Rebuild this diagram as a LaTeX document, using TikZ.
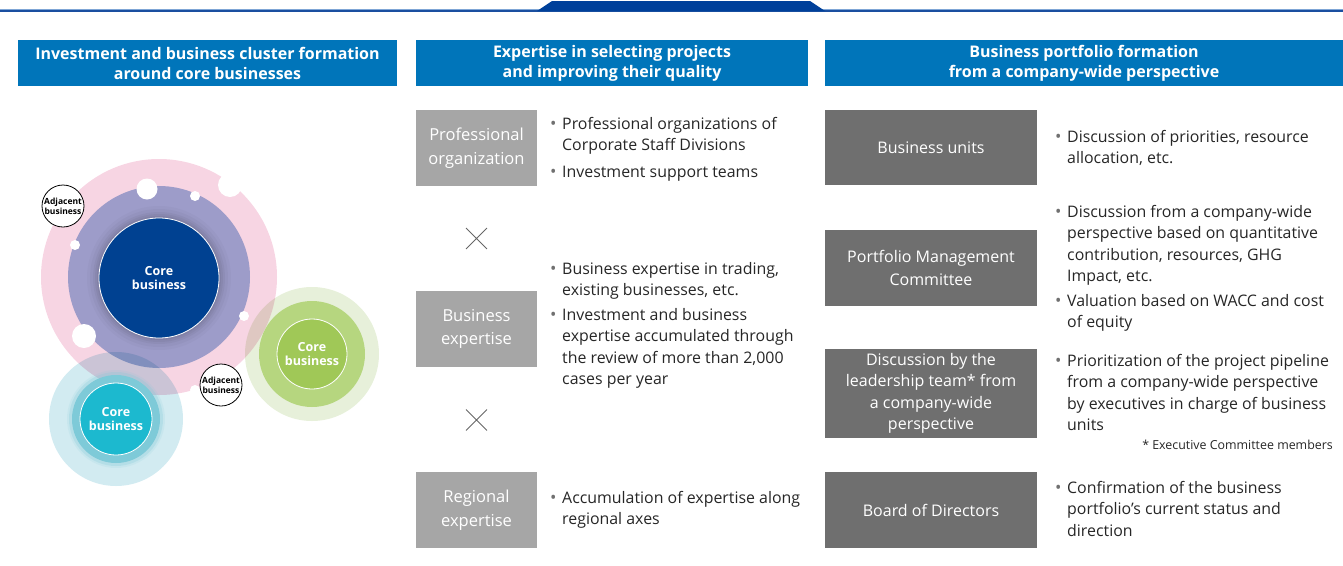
\documentclass[tikz,border=0pt]{standalone}
\usepackage{fontspec}
\setmainfont{Open Sans}
\usetikzlibrary{shapes.misc}
\definecolor{hdrblue}{HTML}{0075BA}
\definecolor{topblue}{HTML}{00409A}
\definecolor{linedark}{HTML}{1A4FA0}
\definecolor{linelight}{HTML}{7FA6D6}
\definecolor{lgrey}{HTML}{A6A6A6}
\definecolor{dgrey}{HTML}{6F6F6F}
\definecolor{txtc}{HTML}{262626}
\definecolor{bulc}{HTML}{707070}
\definecolor{pinkc}{HTML}{F7D5E3}
\definecolor{purplec}{HTML}{9D9CC9}
\definecolor{coreblue}{HTML}{004191}
\definecolor{cyanout}{HTML}{D2EBF1}
\definecolor{cyanmid}{HTML}{7ECAD8}
\definecolor{cyanin}{HTML}{1CB9CF}
\definecolor{greenout}{HTML}{E7F0DA}
\definecolor{greenmid}{HTML}{B6D67F}
\definecolor{greenin}{HTML}{A0C857}
\newcommand{\bitem}[4]{%
  \node[bultxt] (#1) at (#2,#3) {\parbox[t]{300pt}{\raggedright #4}};
  \node[bulmark] (#1b) at ({#2-12},#3) {\textbullet};}
\begin{document}
\begin{tikzpicture}[x=1pt,y=-1pt,
  hdr/.style={fill=hdrblue, text=white, font=\bfseries\fontsize{16}{20}\selectfont,
    align=center, minimum height=46pt, inner sep=0pt},
  gbox/.style={fill=lgrey, text=white, font=\fontsize{16.5}{23.5}\selectfont,
    align=center, minimum width=121pt, minimum height=76pt, inner sep=0pt},
  dbox/.style={fill=dgrey, text=white, font=\fontsize{16}{23.5}\selectfont,
    align=center, minimum width=212pt, inner sep=0pt},
  bultxt/.style={anchor=base west, inner sep=0pt, text=txtc,
    font=\fontsize{15.9}{21.5}\selectfont},
  bulmark/.style={anchor=base west, inner sep=0pt, text=bulc,
    font=\fontsize{17}{21.5}\selectfont},
  xmark/.style={draw=black!60, line width=0.9pt, cross out, minimum size=20pt, inner sep=0pt},
  corec/.style={circle, draw=white, line width=0.8pt, text=white, align=center,
    font=\bfseries\fontsize{12.5}{14.5}\selectfont, inner sep=0pt},
  adjc/.style={circle, draw=black, fill=white, line width=0.8pt, minimum size=42pt,
    inner sep=0pt, align=center, font=\bfseries\fontsize{8.5}{10}\selectfont},
  hole/.style={fill=white}
]
\useasboundingbox (0,0) rectangle (1343,565);
% top rule
\draw[linelight, line width=1pt] (0,9) -- (1343,9);
\draw[linedark, line width=1.6pt] (0,11) -- (1343,11);
\fill[topblue] (537,11) -- (552,1) -- (810,1) -- (825,11) -- cycle;
% headers
\node[hdr, minimum width=379pt] (h1) at (207.5,63) {Investment and business cluster formation\\around core businesses};
\node[hdr, minimum width=392pt] (h2) at (612,63) {Expertise in selecting projects\\and improving their quality};
\node[hdr, minimum width=518pt] (h3) at (1084,63) {Business portfolio formation\\from a company-wide perspective};
% ---- circles
\fill[pinkc] (159,277) circle (118);
\fill[purplec] (159,277) circle (91);
\foreach \r/\o in {72/0.06,69/0.08,66/0.1,64/0.12,62/0.15}
  \fill[purplec!60!black, opacity=\o] (159,278) circle (\r);
\node[corec, fill=coreblue, minimum size=120pt] (core1) at (159,278) {Core\\business};
% holes
\fill[hole] (147,189) circle (10.5);
\fill[hole] (195,196) circle (5);
\fill[hole] (230,185) circle (12);
\fill[hole] (75,245) circle (5);
\fill[hole] (84,336) circle (12);
\fill[hole] (244,316) circle (5);
\fill[hole] (195,390) circle (5);
% outer translucent rings
\begin{scope}[blend mode=multiply]
\fill[cyanout] (116,419) circle (67);
\fill[greenout] (312,354) circle (67);
\end{scope}
% cyan cluster
\foreach \r/\o in {49/0.12,47/0.25}
  \fill[cyanmid, opacity=\o] (116,419) circle (\r);
\fill[cyanmid] (116,419) circle (44);
\node[corec, fill=cyanin, minimum size=72pt] (core2) at (116,419) {Core\\business};
% green cluster
\fill[greenmid] (312,354) circle (53);
\node[corec, fill=greenin, minimum size=70pt] (core3) at (312,354) {Core\\business};
% adjacent
\node[adjc] (adj1) at (63,206) {Adjacent\\business};
\node[adjc] (adj2) at (221,385) {Adjacent\\business};
% ---- middle column
\node[gbox] (po) at (476.5,148) {Professional\\organization};
\node[gbox] (be) at (476.5,329) {Business\\expertise};
\node[gbox] (re) at (476.5,510) {Regional\\expertise};
\node[xmark] (x1) at (476.5,238.5) {};
\node[xmark] (x2) at (476.5,420) {};
\bitem{p1}{562}{129}{Professional organizations of\\Corporate Staff Divisions}
\bitem{p2}{562}{177}{Investment support teams}
\bitem{b1}{562}{274}{Business expertise in trading,\\existing businesses, etc.}
\bitem{b2}{562}{320}{Investment and business\\expertise accumulated through\\the review of more than 2,000\\cases per year}
\bitem{r1}{562}{503}{Accumulation of expertise along\\regional axes}
% ---- right column
\node[dbox, minimum height=75pt] (bu) at (931,147.5) {Business units};
\node[dbox, minimum height=76pt] (pm) at (931,268) {Portfolio Management\\Committee};
\node[dbox, minimum height=89pt, font=\fontsize{16}{21.5}\selectfont] (dl) at (931,393.5) {Discussion by the\\leadership team* from\\a company-wide\\perspective};
\node[dbox, minimum height=76pt] (bd) at (931,510) {Board of Directors};
\bitem{u1}{1067}{142}{Discussion of priorities, resource\\allocation, etc.}
\bitem{m1}{1067}{217}{Discussion from a company-wide\\perspective based on quantitative\\contribution, resources, GHG\\Impact, etc.}
\bitem{m2}{1067}{306}{Valuation based on WACC and cost\\of equity}
\bitem{d1}{1067}{366}{Prioritization of the project pipeline\\from a company-wide perspective\\by executives in charge of business\\units}
\node[anchor=base east, inner sep=0pt, text=txtc, font=\fontsize{12.4}{14}\selectfont] (fn) at (1333,449) {* Executive Committee members};
\bitem{c1}{1067}{493}{Confirmation of the business\\portfolio’s current status and\\direction}
\end{tikzpicture}
\end{document}
